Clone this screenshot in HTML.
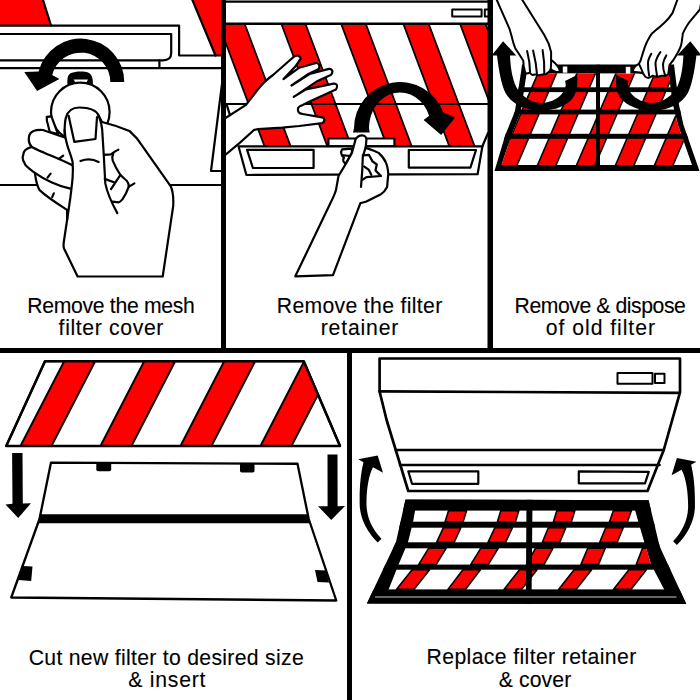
<!DOCTYPE html>
<html><head><meta charset="utf-8">
<style>
html,body{margin:0;padding:0;background:#fff;width:700px;height:700px;overflow:hidden}
svg{display:block}
text{font-family:"Liberation Sans",sans-serif;font-size:21.2px;fill:#000;stroke:#000;stroke-width:0.12px}
</style></head><body>
<svg width="700" height="700" viewBox="0 0 700 700">
<rect width="700" height="700" fill="#fff"/>
<g id="p1" fill="none" stroke="#000" stroke-width="2.2" stroke-linejoin="round" stroke-linecap="round">
<polygon points="0,0 43,0 51,25.7 0,25.7" fill="#f00" stroke="none"/>
<path d="M43,0 L51,25.5"/>
<polygon points="192.4,0 215.5,55.5 222,55.5 222,0" fill="#f00" stroke="none"/>
<path d="M192.4,0 L215.5,55.5"/>
<path d="M0,25.7 H179.1 V55.5 H222"/>
<path d="M0,34 H171.2 V53 Q171.2,60.3 163,60.3 H0"/>
<path d="M159.4,60.3 V68"/>
<path d="M0,68.1 H222"/>
<path d="M222,84 L211,171 H222"/>
<path d="M0,185 H222"/>
<path d="M124.3,82 A43.5,43.5 0 0 0 38.6,71.5 L24.3,72 L37.1,90.9 L59.4,78.9 L52.2,74.9 A29.5,29.5 0 0 1 110.3,82 Z" fill="#000" stroke="none"/>
<path d="M67.4,84.5 C67.2,78 67.5,75 71,73 C75,71.2 84,70.8 88,72.5 C92,74.5 93,78 92.9,84.5 Z" fill="#000" stroke="none"/>
<polygon points="73.7,79.6 88,79.6 86.8,82 75,82" fill="#fff" stroke="none"/>
<circle cx="80.3" cy="112" r="29.3" fill="#fff"/>
<path fill="#fff" d="M51.4,116.4 L46.8,116.8 C46.5,120 47,122 47.9,124.3 C48.5,127 49,130 50,132.1 L58,134 Z"/>
<path fill="#fff" d="M66,117.5 C68,110 74,107.5 79.3,107.5 C88,107.5 96,110 98.6,115.4 C100,118 101,120 102,122 C110,124 120,127 129.4,130.9 L137.1,138.6 L170.6,186.1 C172.5,190 173.6,198 173.2,206 L162.7,276.5 L77.6,276.5 L64,248.5 C63.3,246 63.5,244 63.8,242 L67.1,220 L67.1,209.8 C58,204 48,198 39.6,190.1 C37,186 36,182 34.9,172.9 C30,169 25,166 24.7,163.4 C22.5,160 22.5,157 23.1,155.6 C23.5,151 25,149 31.8,146.9 C29,144 28,140 29.4,135.1 C31,131 35,129.5 42.9,130 L64.6,137.5 L64.6,130 C64.8,124 65,120 66,117.5 Z"/>
<path d="M31.8,146.9 C36,149 40,151 43.6,152.4 C53,156.5 62,160 71.9,165"/>
<path d="M34.9,172.9 C40,176.5 45,179.5 51.4,182.3 C57,185 63,187 70.3,188.6"/>
<path d="M68.6,115.7 L74.3,141.8 L95.5,139 L97,117"/>
<path d="M80.5,161 C86,159 93,159 98.6,161.9"/>
<path d="M64.6,130 C65,137 66,141 67.1,144.6 C69,151 71.5,157 72.6,161.9 C73,167 73,172 72.6,177.6 C72,186 71,192 70.3,198 L67.1,220"/>
<path d="M98.6,115.4 C101,122 102.4,128 102.4,133.4 L103.7,154 L105.3,183.4 C107,192 111,201.7 117.3,213.1"/>
<path d="M104.1,154.9 L111,154.3 C114,152 116,150.5 118.4,149.7"/>
<path d="M113.3,153.7 C112,156 112,158.5 112.7,160.6 C115,166 117,170 120.1,174.3 C122,177 125,179 127,181.1 C128.5,183 129,185 128.7,186.9 C127,192 124,197 122.4,199.4 C121,201 120,202 119,202.3 L112.1,201.7"/>
<path d="M128.7,186.9 L134.4,183.4 M104.7,178.9 L113.9,182.3 M120.1,175.4 L111,189.1"/>
<path d="M59.3,158.7 L63.2,155.6 M47.5,177.6 L50.6,173.6 M52.2,197.2 L53.8,193.3"/>

</g>
<g id="p2" fill="none" stroke="#000" stroke-width="2.2" stroke-linejoin="round" stroke-linecap="round">
<defs><clipPath id="c2"><polygon points="226,24.5 488,24.5 488,133 482.4,146.3 226,146.3"/></clipPath></defs>
<g clip-path="url(#c2)" fill="#f00" stroke="#000" stroke-width="1.8">
<polygon points="217.1,20 243.2,20 292.0,150 265.9,150"/>
<polygon points="279.9,20 304.0,20 352.8,150 328.7,150"/>
<polygon points="339.7,20 364.3,20 413.1,150 388.5,150"/>
<polygon points="401.9,20 427.2,20 476.0,150 450.7,150"/>
<polygon points="458.6,20 484.1,20 532.9,150 507.4,150"/>
</g>
<path d="M226,1.7 H488" stroke-width="2.2"/>
<path d="M226,23.8 H488" stroke-width="2.4"/>
<rect x="452.2" y="9.6" width="29.4" height="7" stroke-width="2"/>
<rect x="484.8" y="9.6" width="6" height="7" stroke-width="2"/>
<path d="M226,104 H488"/>
<path d="M227.1,105.9 L229.7,114.3"/>
<path d="M488,133 L482.4,146.3"/>
<rect x="328.4" y="138.5" width="66" height="7.8" fill="#fff"/>
<polygon points="238.5,146.3 482.4,146.3 477.6,174.2 246.4,175" fill="#fff"/>
<polygon points="247.1,149.8 313.6,149.8 313.6,168 252.9,168"/>
<polygon points="408.8,150 476,150 470.4,167.6 408.8,167.6"/>
<path d="M353,132.4 L354,128 A46,46 0 0 1 443.2,112.3 L455.1,117.4 L441.2,135 L423.6,120.1 L429.1,115.8 A31,35.7 0 0 0 369,128 L369.7,132.4 Z" fill="#000" stroke="none"/>
<path fill="#fff" d="M224,119 L246,104.9 L258,89.4 C262,84 266,80 273,75 L292.4,58 C294,56 296.5,55.3 298.1,55.7 C300,56.5 301,58 300.4,59.1 L295.3,66.6 L283.5,79 L299.3,67.7 L315.3,63.1 C317,62.8 319,64 319.3,65.4 C319.5,67 319.3,68 318.7,68.9 L308.4,74 L291.5,85.5 L309.6,74 L329,68.9 C331,68.7 332.3,70 332.4,71.1 C332.5,73 332,74 330.7,75.1 L317.6,80.9 L293.8,96.8 L306.1,89.4 L333.6,83.7 C335.5,83.5 337,84.5 337,85.4 C337.2,87.5 336.8,88.5 335.9,89.4 L310.7,100.9 L302.7,104.9 C300,106 298,107 298.1,108.3 C297.8,110 298,111.5 298.7,112.3 C299.5,113.3 301,113.8 302.7,114 L322.1,117.4 C323.5,117.8 324.4,118.5 324.4,119.7 C324.4,121.3 323.5,122.5 322.1,123.1 L299.3,126 L282.1,127.7 L258,129.1 C255,129.5 253.5,130 252.9,131 L240,142.6 L224,156 Z"/>
<path fill="#fff" d="M342.1,149.3 C341,151 341,153 341.5,154.1 C342,156 343.5,157 344,157.8 C343,159 343,160.5 343.4,161.4 L345.8,163.9 L351.9,152.9 L352,148.7 Z"/>
<path d="M343.4,155.4 L350.8,156"/>
<path fill="#fff" d="M295.3,276.3 L330,204 C333,198 335.5,193 336.1,189.4 L338.5,176 L345.8,163.9 L351.9,152.9 L355.5,139.6 C357,136.5 359.5,135.3 362.2,135.3 C365,135.3 366.4,137.5 366.4,139.6 L365.8,146.9 L366.4,148.1 C371,149.5 375,151 378.6,152.9 C382,156 384.5,159 385.9,162.6 C387.5,166 388,170 388.3,173.6 L387.1,186.9 C385.5,190 383.5,192.5 381,194.2 L366.4,201.5 C364,202.5 362,202.8 360.4,203.1 L333,275.1 Z"/>
<path d="M365.8,146.9 L362.8,156.6 L362.2,171.1 L361,186.9"/>
<path d="M362.8,155.4 L368.9,154.8 L372.5,161.4 L376.8,164.5 L375.5,170.5 L378.6,173.6 L381,176 L366.4,177.2 L362.8,179.6"/>
<path d="M364,166.3 L368.9,169.9 L371.3,174.8"/>

</g>
<g id="p3" fill="none" stroke="#000" stroke-width="2.2" stroke-linejoin="round" stroke-linecap="round">
<polygon points="522,64.5 674,64.5 679,105 683.5,125 699.5,171 494.5,171 505.3,135 514.9,111.4 521.1,71.4" fill="#000" stroke="none"/>
<defs><clipPath id="c3"><polygon points="527.7,73.2 668.7,73.5 673,105 678,125 692,165 501.5,165 511.5,135 520.8,111.4 526.6,73.2"/></clipPath>
<clipPath id="c3o"><polygon points="522,64.5 674,64.5 679,105 683.5,125 699.5,171 494.5,171 505.3,135 514.9,111.4 521.1,71.4"/></clipPath></defs>
<g clip-path="url(#c3)">
<rect x="490" y="60" width="210" height="115" fill="#fff" stroke="none"/>
<g fill="#f00" stroke="#000" stroke-width="1.6">
<polygon points="426.7,60 445.2,60 395.8,175 377.3,175"/>
<polygon points="465.7,60 484.2,60 434.8,175 416.3,175"/>
<polygon points="504.7,60 523.2,60 473.8,175 455.3,175"/>
<polygon points="543.7,60 562.2,60 512.8,175 494.3,175"/>
<polygon points="582.7,60 601.2,60 551.8,175 533.3,175"/>
<polygon points="621.7,60 640.2,60 590.8,175 572.3,175"/>
<polygon points="660.7,60 679.2,60 629.8,175 611.3,175"/>
<polygon points="699.7,60 718.2,60 668.8,175 650.3,175"/>
<polygon points="738.7,60 757.2,60 707.8,175 689.3,175"/>
<polygon points="777.7,60 796.2,60 746.8,175 728.3,175"/>
<polygon points="816.7,60 835.2,60 785.8,175 767.3,175"/>
</g>
</g>
<g fill="#000" stroke="none" clip-path="url(#c3o)">
<rect x="494" y="87.3" width="205" height="4.8"/>
<rect x="494" y="109.6" width="205" height="4.8"/>
<rect x="494" y="133.8" width="205" height="5"/>
<rect x="596" y="64.5" width="4" height="106"/>
</g>
<rect x="562.8" y="66.5" width="4.5" height="6.2" fill="#fff" stroke="none"/>
<rect x="625.8" y="66.8" width="4.5" height="6.8" fill="#fff" stroke="none"/>
<path d="M491.7,55.6 L503.1,41.3 L516.3,55.6 L510,55.6 C510.5,66 512,79 516.5,87.5 C521,95 529,102.5 541.4,102.9 C552,102.9 561,97 564.5,90 C566,86 566,83.5 565,81 L577,75 C578.5,86 576,96 570,101 C562,108 552,110.5 540,110.5 C524,110.5 511,103 505.5,93 C501.5,85 499,72 497,55.6 Z" fill="#000" stroke="none"/>
<path d="M491.7,55.6 L503.1,41.3 L516.3,55.6 L510,55.6 C510.5,66 512,79 516.5,87.5 C521,95 529,102.5 541.4,102.9 C552,102.9 561,97 564.5,90 C566,86 566,83.5 565,81 L577,75 C578.5,86 576,96 570,101 C562,108 552,110.5 540,110.5 C524,110.5 511,103 505.5,93 C501.5,85 499,72 497,55.6 Z" fill="#000" stroke="none" transform="matrix(-1,0,0,1,1193.4,0)"/>
<g id="h3r">
<path fill="#fff" stroke-width="2" d="M678,-2 L672.6,12.9 C670,17 667.5,20 664.9,22.3 C662,25 660,27 657.1,29.1 L652,33.4 C650,36 648.5,39 646.9,42 C645.5,45 644.3,48 643.4,51.4 L640.5,60.7 L638.9,63.9 C637,65 635.5,66 634.6,67.1 C633.5,68.5 633,69.5 633,70.4 C633.5,71.5 634,72 634.6,72 L640,72.5 L643.2,73.6 C644,75 644.5,76 645.4,76.8 C646.5,77.6 647.5,77.9 648.6,77.9 C650,77.5 651.5,76.5 652.9,75.7 C654.5,76.3 655.5,76.8 657.1,76.8 C658.5,76.6 660,76 661.4,75.7 L665.7,75.7 C667,75.2 668,74.5 668.4,73.6 L669.5,65 C671,63 672,61.5 673.4,60 C676,56 679.5,50 681.1,45.4 C681.8,42 682.2,39 682.4,36.9 L682.9,33.4 C685,29 688,23.5 691.4,19.7 L700,9.4 L702,-2 Z"/>
<path stroke-width="2" d="M651.3,53.8 C649.5,57 648,60 648,62.9 C648,67 648.5,72 649.1,75.7 M660.4,52.1 C658,55.5 656,59 655.5,62.9 C655.5,67 656.5,72 657.1,76.3 M666.3,55.4 C664.5,58.5 663,62 663,65 C663,69 664,72.5 665.2,75.7 M638.9,63.9 C640.5,67 642,70.5 643.2,73.6"/>
</g>
<g id="h3">
<path fill="#fff" stroke-width="2" d="M495.9,-2 L509.3,28.3 L511.3,35 C512.5,40 513.5,44 515.1,47.9 C517,51 519,54 521.1,57.3 L523.3,60.7 L523.7,65.9 L525,71.9 C525.5,73 526,73.5 526.3,73.6 C528,73.5 529,73 529.7,72.7 C531,74 532,74.8 532.7,74.9 C534,74.8 535,74.5 535.7,74.4 C537,75 538,75.3 539.1,75.3 C540.5,75.2 541.5,74.6 542.6,74.4 L546,74 C548,73 549,72 549.9,71 L550.7,69.3 C552.5,70.5 554.5,71.5 556.3,71.9 C558,72 559.5,71.8 559.7,71 C559.5,69.5 559,68 558,66.7 C556,64 553.5,61.5 551.1,59.9 L551.1,52.1 C550,48 549.5,46 548.6,43.6 C547,40 545.5,37.5 544.3,35 L521.1,-2 Z"/>
<path stroke-width="2" d="M527.1,50.9 C529,58 530,66 530.1,72.7 M533.1,50.4 C535,58 536.5,67 537,74.4 M542.6,50 C544,58 544.5,66 544.3,74 M550.7,69.3 C551,66 551.2,62 551.1,59.9"/>
</g>

</g>
<g id="p4" fill="none" stroke="#000" stroke-width="2.2" stroke-linejoin="round" stroke-linecap="round">
<defs><clipPath id="c4"><polygon points="45,361.25 303.75,361.25 340,446 6.25,446"/></clipPath></defs>
<polygon points="45,361.25 303.75,361.25 340,446 6.25,446" fill="#fff"/>
<g clip-path="url(#c4)" fill="#f00" stroke="#000" stroke-width="2">
<polygon points="-12.6,355 18.4,355 -30.6,450 -61.6,450"/>
<polygon points="67.4,355 98.4,355 49.4,450 18.4,450"/>
<polygon points="147.4,355 178.4,355 129.4,450 98.4,450"/>
<polygon points="227.4,355 258.4,355 209.4,450 178.4,450"/>
<polygon points="307.4,355 338.4,355 289.4,450 258.4,450"/>
<polygon points="387.4,355 418.4,355 369.4,450 338.4,450"/>
</g>
<polygon points="45,361.25 303.75,361.25 340,446 6.25,446" stroke-width="2.5"/>
<g fill="#000" stroke="none">
<polygon points="12.1,452.9 22.5,452.9 22.8,503.5 31,503.3 18.2,517.9 5.5,504.5 12.5,503.8"/>
<polygon points="327.5,454.5 337.5,454.5 337.6,506.2 345,506 331.25,520 318,506.2 327.6,506.2"/>
</g>
<polygon points="51,462.6 297.5,463.75 308.75,519 336.25,600.5 11.25,597.5 39.5,519" fill="#fff" stroke-width="2.3"/>
<polygon points="39.5,514.3 308,514.3 309.5,523.3 38.5,523.3" fill="#000" stroke="none"/>
<g fill="#000" stroke="none">
<path d="M96.3,462.6 H111.2 V469.5 Q111.2,471.3 109.4,471.3 H98.1 Q96.3,471.3 96.3,469.5 Z"/>
<path d="M240,463.8 H254.5 V470.7 Q254.5,472.5 252.7,472.5 H241.8 Q240,472.5 240,470.7 Z"/>
<polygon points="22.5,566 32.5,566.5 31.2,581 18.5,580"/>
<polygon points="315,570 326,570.5 329,582.5 317.5,582"/>
</g>

</g>
<g id="p5" fill="none" stroke="#000" stroke-width="2.2" stroke-linejoin="round" stroke-linecap="round">
<path d="M379.6,358.5 H680 V392.3 L663.75,450 L647.5,491 H408.25 L395.75,450 L386.6,420 L379.6,391.5 Z" fill="#fff" stroke-width="2.7"/>
<path d="M379.6,391.4 L679,392.8" stroke-width="2.7"/>
<path d="M395.8,450 H663.7" stroke-width="2.6"/>
<path d="M400,465 H659.5" stroke-width="2.6"/>
<polygon points="408.3,471.3 478.3,471.3 478.3,483.8 412,483.8"/>
<polygon points="578.8,471.3 648.8,471.8 645,483.3 578.8,483.3"/>
<rect x="617.5" y="373" width="35" height="10.8" stroke-width="2"/>
<rect x="655" y="373.8" width="9.5" height="9.2" stroke-width="2"/>
<path d="M358.2,459.3 L377.7,455.5 L383,472.7 L373,467.3 C368.5,476 366.3,490 366.5,505 C366.8,517 372,529 381.5,538.7 L377.7,542.5 C367,532 360,518 359.7,505 C359.4,488 360.5,474 363.5,462.3 Z" fill="#000" stroke="none"/>
<path d="M358.2,459.3 L377.7,455.5 L383,472.7 L373,467.3 C368.5,476 366.3,490 366.5,505 C366.8,517 372,529 381.5,538.7 L377.7,542.5 C367,532 360,518 359.7,505 C359.4,488 360.5,474 363.5,462.3 Z" fill="#000" stroke="none" transform="matrix(-1,0,0,1,1054.6,2.5)"/>
<polygon points="405.5,499.4 648.6,500.3 659.7,546.6 686.3,604 366.9,603.5 396,542" fill="#000" stroke="none"/>
<defs><clipPath id="c5"><polygon points="415.5,508 413.1,521.7 408,542.3 398.6,564.6 388,591 665,591 651.1,564.6 644.3,542.3 638.3,521.7 634.5,508"/></clipPath>
<clipPath id="c5o"><polygon points="405.5,499.4 648.6,500.3 659.7,546.6 686.3,604 366.9,603.5 396,542"/></clipPath></defs>
<g clip-path="url(#c5)">
<rect x="380" y="500" width="300" height="100" fill="#fff" stroke="none"/>
<g fill="#f00" stroke="#000" stroke-width="1.6">
<polygon points="448.6,510.6 466.6,510.6 463.1,521.7 445.1,521.7"/>
<polygon points="500.9,510.6 518.9,510.6 515.4,521.7 497.4,521.7"/>
<polygon points="556.9,510.6 574.9,510.6 571.4,521.7 553.4,521.7"/>
<polygon points="613.4,510.6 631.4,510.6 627.5,521.7 609.5,521.7"/>
<polygon points="443.4,527.7 460.9,527.7 454.1,542.3 436.6,542.3"/>
<polygon points="494.9,527.7 512.4,527.7 505.5,542.3 488.0,542.3"/>
<polygon points="548.3,527.7 565.8,527.7 559.8,542.3 542.3,542.3"/>
<polygon points="605.7,527.7 623.2,527.7 617.2,542.3 599.7,542.3"/>
<polygon points="428.6,548.3 446.1,548.3 436.1,564.6 418.6,564.6"/>
<polygon points="480.7,548.3 498.2,548.3 488.2,564.6 470.7,564.6"/>
<polygon points="535.4,548.3 552.9,548.3 544.0,564.6 526.5,564.6"/>
<polygon points="587.7,548.3 605.2,548.3 598.4,564.6 580.9,564.6"/>
<polygon points="642.5,548.3 660.0,548.3 653.7,564.6 636.2,564.6"/>
<polygon points="412.1,569.7 429.6,569.7 413.9,589.4 396.4,589.4"/>
<polygon points="462.9,569.7 480.4,569.7 465.4,589.4 447.9,589.4"/>
<polygon points="519.5,569.7 537.0,569.7 521.5,589.4 504.0,589.4"/>
<polygon points="574.1,569.7 591.6,569.7 576.1,589.4 558.6,589.4"/>
<polygon points="628.9,569.7 646.4,569.7 630.9,589.4 613.4,589.4"/>
</g>
</g>
<g fill="#000" stroke="none" clip-path="url(#c5o)">
<rect x="360" y="499.4" width="330" height="11.2"/>
<rect x="360" y="521.7" width="330" height="6"/>
<rect x="360" y="542.3" width="330" height="6"/>
<rect x="360" y="564.6" width="330" height="5.1"/>
<rect x="360" y="589.4" width="330" height="15"/>
<polygon points="526.5,499 532.5,499 531.5,604 525.8,604"/>
</g>
<path d="M375.5,597 H676" stroke="#ccc" stroke-width="1.2"/>

</g>
<!-- dividers -->
<g fill="#000">
<rect x="221" y="0" width="5" height="350"/>
<rect x="487.5" y="0" width="5.5" height="350"/>
<rect x="0" y="348" width="700" height="5"/>
<rect x="347" y="350" width="5" height="350"/>
</g>
<!-- captions -->
<g text-anchor="middle">
<text x="111" y="313" textLength="167.7" lengthAdjust="spacing">Remove the mesh</text>
<text x="111" y="334.6" textLength="104.8" lengthAdjust="spacing">filter cover</text>
<text x="359.5" y="313" textLength="165.5" lengthAdjust="spacing">Remove the filter</text>
<text x="359.5" y="334.6" textLength="77.6" lengthAdjust="spacing">retainer</text>
<text x="600.2" y="313" textLength="171.3" lengthAdjust="spacing">Remove &amp; dispose</text>
<text x="600.4" y="334.6" textLength="109.1" lengthAdjust="spacing">of old filter</text>
<text x="166.2" y="665.2" textLength="275" lengthAdjust="spacing">Cut new filter to desired size</text>
<text x="166.8" y="686.5" textLength="77.2" lengthAdjust="spacing">&amp; insert</text>
<text x="531.4" y="664.3" textLength="209.6" lengthAdjust="spacing">Replace filter retainer</text>
<text x="535" y="686.5" textLength="72.4" lengthAdjust="spacing">&amp; cover</text>
</g>
</svg>
</body></html>
